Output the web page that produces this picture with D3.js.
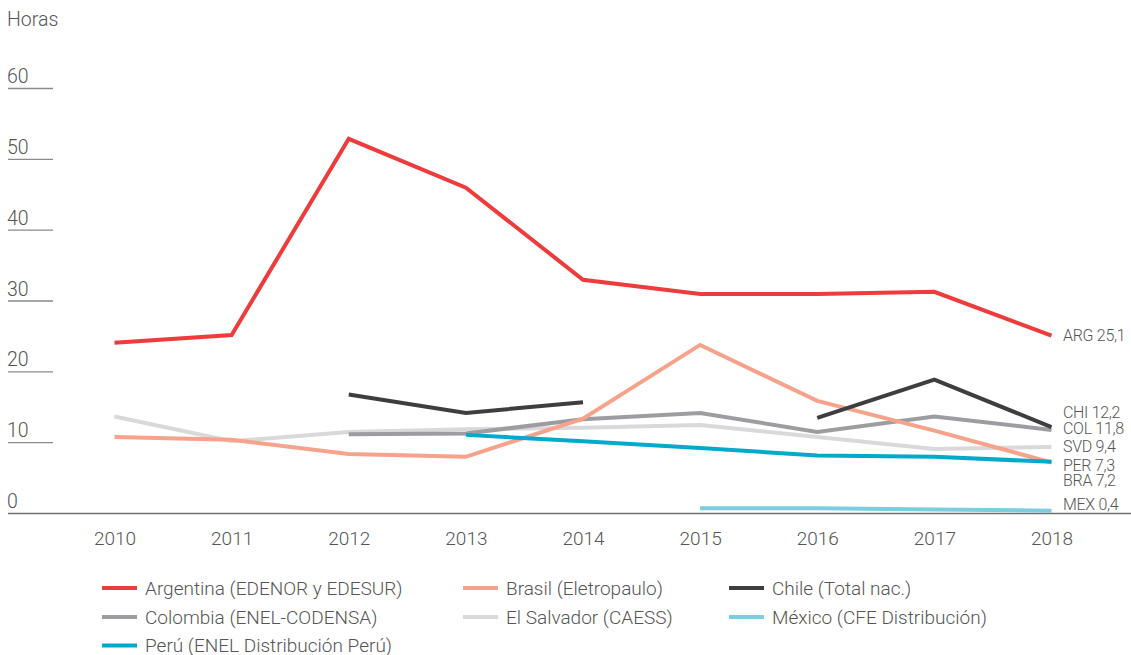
<!DOCTYPE html>
<html>
<head>
<meta charset="utf-8">
<script src="https://cdn.jsdelivr.net/npm/d3@7/dist/d3.min.js"></script>
<style>
  html, body { margin: 0; padding: 0; background: #fff; }
  svg { display: block; font-family: Roboto, "Liberation Sans", sans-serif; }
</style>
</head>
<body>
<svg id="chart" width="1131" height="655"></svg>
<script>
// ---------- DATA ----------
const years = [2010, 2011, 2012, 2013, 2014, 2015, 2016, 2017, 2018];
const yTicks = [0, 10, 20, 30, 40, 50, 60];
const yAxisTitle = "Horas";

const seriesNames = [
  "Argentina (EDENOR y EDESUR)",
  "Brasil (Eletropaulo)",
  "Chile (Total nac.)",
  "Colombia (ENEL-CODENSA)",
  "El Salvador (CAESS)",
  "México (CFE Distribución)",
  "Perú (ENEL Distribución Perú)"
];
const seriesCodes = ["ARG", "BRA", "CHI", "COL", "SVD", "MEX", "PER"];
const seriesColors = ["#EE3B3B", "#F7A28B", "#3E3E40", "#9D9CA1", "#D9D9D9", "#7CCDE0", "#00AACB"];

// null = no data
const argValues = [24.1, 25.2, 52.9, 46.0, 33.0, 31.0, 31.0, 31.3, 25.1];
const braValues = [10.8, 10.4, 8.4, 8.0, 13.4, 23.8, 15.9, 11.7, 7.2];
const chiValues = [null, null, 16.8, 14.2, 15.7, null, 13.5, 18.9, 12.2];
const colValues = [null, null, 11.2, 11.3, 13.3, 14.2, 11.5, 13.7, 11.8];
const svdValues = [13.7, 10.2, 11.5, 11.9, 12.1, 12.5, 10.8, 9.1, 9.4];
const mexValues = [null, null, null, null, null, 0.75, 0.75, 0.55, 0.4];
const perValues = [null, null, null, 11.1, 10.2, 9.25, 8.2, 8.0, 7.3];
const endLabelValues = ["25,1", "7,2", "12,2", "11,8", "9,4", "0,4", "7,3"];

const allValues = [argValues, braValues, chiValues, colValues, svdValues, mexValues, perValues];

// ---------- LAYOUT ----------
const svg = d3.select("#chart");
const x = d3.scalePoint().domain(years).range([114.5, 1051.5]);
const y = d3.scaleLinear().domain([0, 60]).range([513.5, 88.5]);
const textColor = "#555";

// y axis: labels with short underline
const yAxisG = svg.append("g");
yTicks.forEach(t => {
  yAxisG.append("line")
    .attr("x1", 8).attr("x2", t === 0 ? 1131 : 53)
    .attr("y1", y(t)).attr("y2", y(t))
    .attr("stroke", t === 0 ? "#6f6f6f" : "#8a8a8a")
    .attr("stroke-width", t === 0 ? 1.6 : 1.3);
  yAxisG.append("text")
    .attr("x", 7).attr("y", y(t) - 5.5)
    .attr("font-size", 19.5).attr("font-weight", 300)
    .attr("fill", textColor)
    .text(t);
});
svg.append("text")
  .attr("x", 7).attr("y", 26)
  .attr("font-size", 19.5).attr("font-weight", 300)
  .attr("fill", textColor)
  .text(yAxisTitle);

// x axis
const xAxisG = svg.append("g")
  .attr("transform", `translate(0, ${y(0)})`)
  .call(d3.axisBottom(x).tickSize(0).tickPadding(0));
xAxisG.select(".domain").remove();
xAxisG.selectAll("text")
  .attr("y", 31.5).attr("dy", 0)
  .attr("font-size", 19).attr("font-weight", 300)
  .attr("font-family", "Roboto, 'Liberation Sans', sans-serif")
  .attr("fill", textColor);

// lines
const line = d3.line()
  .defined(d => d.v !== null)
  .x(d => x(d.year))
  .y(d => y(d.v));

// draw order: light/back first
const drawOrder = [4, 3, 1, 6, 5, 2, 0];
drawOrder.forEach(i => {
  const pts = years.map((yr, k) => ({ year: yr, v: allValues[i][k] }));
  svg.append("path")
    .datum(pts)
    .attr("fill", "none")
    .attr("stroke", seriesColors[i])
    .attr("stroke-width", 4)
    .attr("stroke-linejoin", "miter")
    .attr("d", line);
});

// end labels (nudged vertically to avoid overlaps)
const labelNudge = { ARG: 0, BRA: 18, CHI: -15, COL: -1.5, SVD: -1, MEX: -6.5, PER: 3.5 };
seriesCodes.forEach((code, i) => {
  const vals = allValues[i];
  const last = vals[vals.length - 1];
  svg.append("text")
    .attr("x", 1063)
    .attr("y", y(last) + labelNudge[code])
    .attr("dy", "0.35em")
    .attr("font-size", 16).attr("font-weight", 300)
    .attr("letter-spacing", -0.3)
    .attr("fill", textColor)
    .text(code + " " + endLabelValues[i]);
});

// legend
const legCols = [102, 463, 729];
const legRows = [588, 617, 645.5];
seriesNames.forEach((name, i) => {
  const cx = legCols[i % 3];
  const cy = legRows[Math.floor(i / 3)];
  svg.append("line")
    .attr("x1", cx).attr("x2", cx + 35)
    .attr("y1", cy).attr("y2", cy)
    .attr("stroke", seriesColors[i]).attr("stroke-width", 4);
  svg.append("text")
    .attr("x", cx + 43).attr("y", cy)
    .attr("dy", "0.35em")
    .attr("font-size", 19).attr("font-weight", 300)
    .attr("fill", textColor)
    .text(name);
});
</script>
</body>
</html>
